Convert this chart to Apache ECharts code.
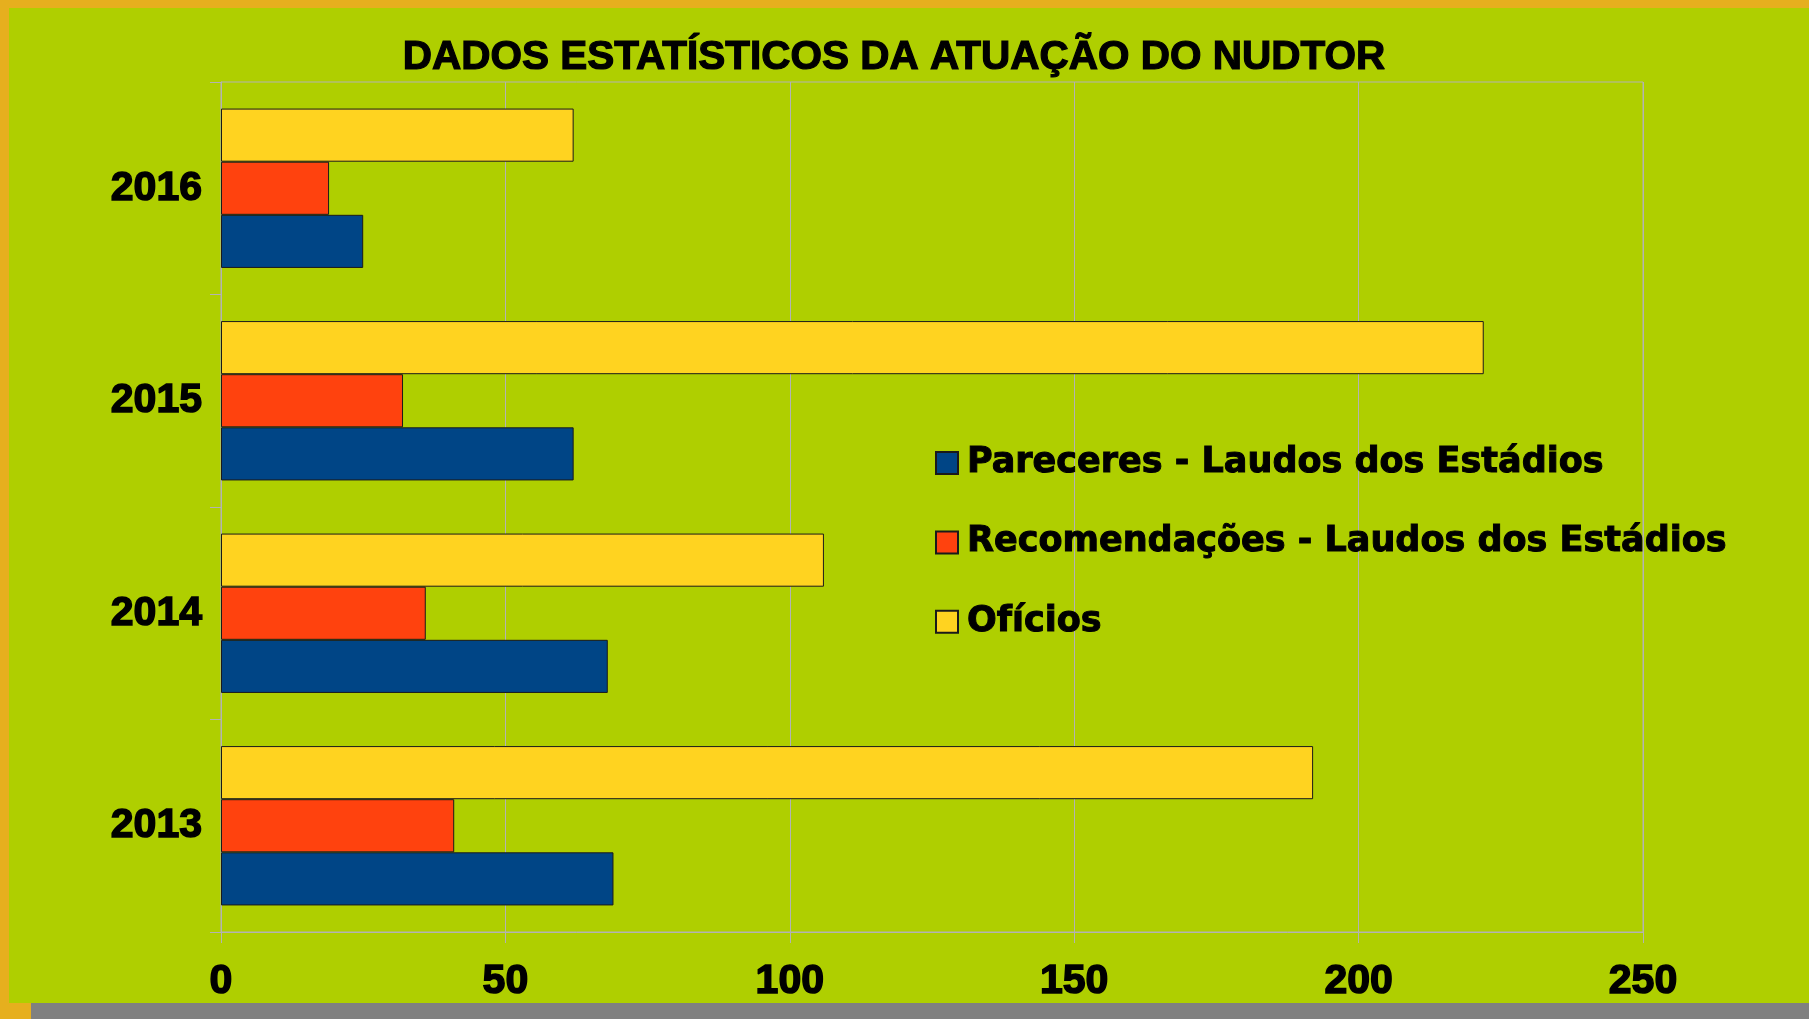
<!DOCTYPE html>
<html><head><meta charset="utf-8">
<script src="https://cdn.jsdelivr.net/npm/echarts@6/dist/echarts.min.js"></script>
<style>
html,body{margin:0;padding:0;width:1809px;height:1019px;overflow:hidden;background:#E6AF1E;}
#green{position:absolute;left:9px;top:8px;width:1800px;height:995px;background:#AFCF00;}
#gray{position:absolute;left:31px;top:1003px;width:1778px;height:16px;background:#808080;}
#chart{position:absolute;left:0;top:0;width:1809px;height:1019px;}
</style></head><body>
<div id="green"></div><div id="gray"></div><div id="chart"></div>
<script>
const chartTitle = 'DADOS ESTATÍSTICOS DA ATUAÇÃO DO NUDTOR';
const years = ['2013', '2014', '2015', '2016'];
const seriesNames = ['Pareceres - Laudos dos Estádios', 'Recomendações - Laudos dos Estádios', 'Ofícios'];
const pareceres = [69, 68, 62, 25];
const recomendacoes = [41, 36, 32, 19];
const oficios = [192, 106, 222, 62];
const xMin = 0, xMax = 250, xStep = 50;
const colors = ['#004586', '#FF420E', '#FFD320'];

const chart = echarts.init(document.getElementById('chart'), null, {renderer: 'canvas'});
const dataSets = [pareceres, recomendacoes, oficios];
// ECharts stacks horizontal bar series top-to-bottom, so add them in reverse order
const series = [2, 1, 0].map(i => ({
  name: seriesNames[i],
  type: 'bar',
  data: dataSets[i],
  barCategoryGap: '25%',
  barGap: '0%',
  itemStyle: {color: colors[i], borderColor: '#1a1a1a', borderWidth: 1},
  emphasis: {disabled: true},
  animation: false
}));
const heavy = {color: '#000', textBorderColor: '#000'};
chart.setOption({
  animation: false,
  title: {
    text: chartTitle, left: 894, top: 37, textAlign: 'center', padding: 0,
    textStyle: Object.assign({fontFamily: 'Liberation Sans', fontWeight: 'bold', fontSize: 40.5, textBorderWidth: 1.2}, heavy)
  },
  legend: {
    orient: 'vertical', left: 935, top: 445, padding: 0,
    itemWidth: 22, itemHeight: 22, itemGap: 43.4,
    icon: 'rect',
    data: seriesNames,
    textStyle: Object.assign({fontFamily: 'DejaVu Sans', fontWeight: 'bold', fontSize: 35, lineHeight: 36, textBorderWidth: 1, padding: [0, 0, 0, 4]}, heavy)
  },
  grid: {left: 221, right: 166, top: 82, bottom: 87, show: true, borderColor: '#b3b3b3', borderWidth: 1, containLabel: false, outerBoundsMode: 'none'},
  xAxis: {
    type: 'value', min: xMin, max: xMax, interval: xStep,
    axisLine: {show: true, lineStyle: {color: '#b3b3b3', width: 1}},
    axisTick: {show: true, length: 11, lineStyle: {color: '#b3b3b3'}},
    splitLine: {show: true, lineStyle: {color: '#b3b3b3', width: 1}},
    axisLabel: Object.assign({margin: 29, fontFamily: 'Liberation Sans', fontWeight: 'bold', fontSize: 41, textBorderWidth: 1.5}, heavy)
  },
  yAxis: {
    type: 'category', data: years,
    axisLine: {show: true, lineStyle: {color: '#b3b3b3', width: 1}},
    axisTick: {show: true, length: 11, lineStyle: {color: '#b3b3b3'}},
    splitLine: {show: false},
    axisLabel: Object.assign({margin: 19, fontFamily: 'Liberation Sans', fontWeight: 'bold', fontSize: 41, textBorderWidth: 1.5}, heavy)
  },
  series: series
});
</script>
</body></html>
